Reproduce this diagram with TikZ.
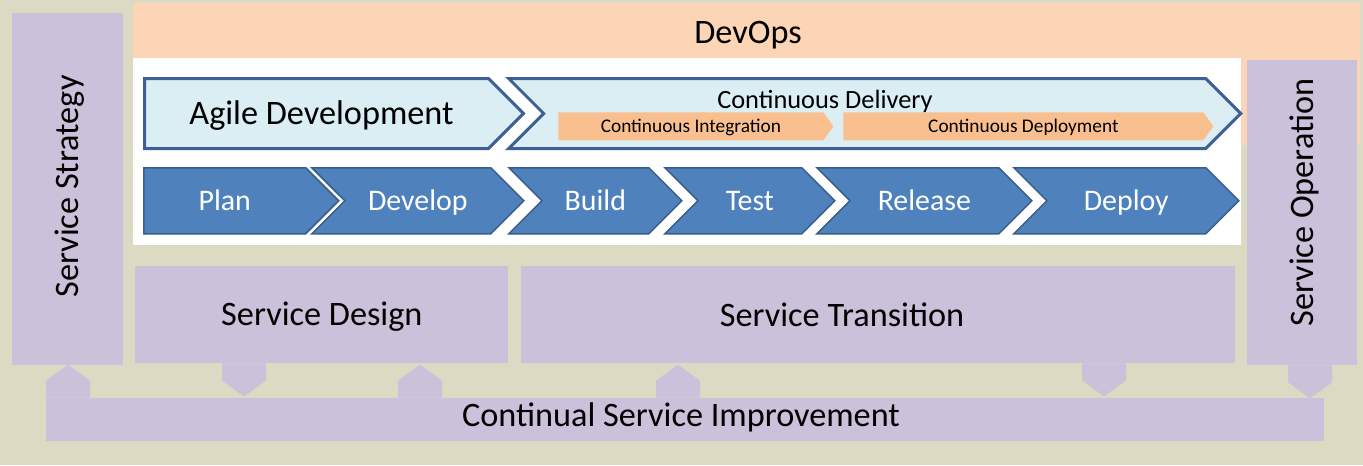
\documentclass[tikz,border=0pt]{standalone}
\usepackage{fontspec}
\setmainfont{Carlito}
\usetikzlibrary{shapes.symbols,positioning}
\definecolor{itilbeige}{HTML}{DDDAC3}
\definecolor{itilpurple}{HTML}{CCC1DA}
\definecolor{devpeach}{HTML}{FBD5B5}
\definecolor{cipeach}{HTML}{F9BF8F}
\definecolor{agilefill}{HTML}{DBEEF4}
\definecolor{agileline}{HTML}{3C6094}
\definecolor{stepblue}{HTML}{4F81BD}
\definecolor{stepline}{HTML}{385D8A}

\begin{document}
\begin{tikzpicture}[
  x=0.2mm, y=-0.2mm, inner sep=0pt,
  wh/.style 2 args={minimum width=#1*0.2mm, minimum height=#2*0.2mm},
  big/.style={font=\fontsize{19.5}{23}\selectfont, text height=15.6pt, text depth=3pt},
  itil/.style={big, fill=itilpurple, align=center},
  flow/.style={signal, signal to=east, signal pointer angle=90},
  agile/.style={flow, draw=agileline, line width=0.6mm, fill=agilefill, big},
  stepbox/.style={flow, signal from=west, draw=stepline, line width=0.3mm,
                  fill=stepblue, text=white, font=\fontsize{17}{20}\selectfont,
                  text height=13.9pt, text depth=3pt},
  ci/.style={signal, signal to=east, signal pointer angle=109, fill=cipeach,
             font=\fontsize{11}{13}\selectfont, text height=9.1pt, text depth=2pt},
  nub/.style={signal, signal to=east, signal pointer angle=108,
              fill=itilpurple, wh={33}{44}},
]

\fill[itilbeige] (0,0) rectangle (1363,465);
\useasboundingbox (0,0) rectangle (1363,465);

% ---------------- DevOps band and white panel -----------------------
\node[fill=devpeach, wh={1227}{142}, anchor=north west] (devops) at (133,3) {};
\node[fill=white, wh={1108}{187}, anchor=north west] (panel) at (133,58) {};
\node[big] (devopslbl) at (748,32) {DevOps};

% ---------------- agile and continuous delivery ---------------------
\node[agile, wh={379}{70}, anchor=north west] (agile) at (143,77)
  {\hspace*{2mm}Agile Development};
\node[agile, signal from=west, wh={732}{70}, anchor=north west] (cd) at (505,77) {};
\node[font=\fontsize{15}{18}\selectfont, text height=12.7pt, text depth=3pt]
  (cdlbl) at (825,100) {Continuous Delivery};
\node[ci, wh={275}{28}, anchor=north west] (ci) at (558,112) {Continuous Integration};
\node[ci, wh={370}{28}, anchor=north west] (cdep) at (843,112) {Continuous Deployment};

% ---------------- pipeline steps ------------------------------------
\node[stepbox, signal from=nowhere, wh={195}{66}, anchor=north west] (plan) at (143,167) {Plan};
\foreach \n/\t/\x/\w in {develop/Develop/310/212, build/Build/507/173, test/Test/663/170,
                         release/Release/815/215, deploy/Deploy/1012/225}
  \node[stepbox, wh={\w}{66}, anchor=north west] (\n) at (\x,167) {\t};

% ---------------- ITIL lifecycle ------------------------------------
\node[itil, rotate=90, wh={352}{111}] (strategy) at (67.5,189) {\hspace*{1mm}Service Strategy};
\node[itil, rotate=90, wh={305}{110}] (operation) at (1302,212.5) {\hspace*{4mm}Service Operation};
\node[itil, wh={373}{97}, anchor=north west] (design) at (135,266) {Service Design};
\node[itil, wh={714}{97}, anchor=north west] (transition) at (521,266) {};
\node[big] (translbl) at (842,315) {Service Transition};
\node[itil, wh={1278}{43}, anchor=north west] (csi) at (46,398) {};
\node[big] (csilbl) at (681,415) {Continual Service Improvement};

% the small arrows between the stages and the improvement bar
\foreach \x [count=\i] in {68, 420, 678}
  \node[nub, rotate=90, anchor=west] (up\i) at (\x,398) {};
\foreach \x/\y [count=\i] in {244/363, 1104/363, 1310/365}
  \node[nub, rotate=-90, anchor=west] (dn\i) at (\x,\y) {};

\end{tikzpicture}
\end{document}
